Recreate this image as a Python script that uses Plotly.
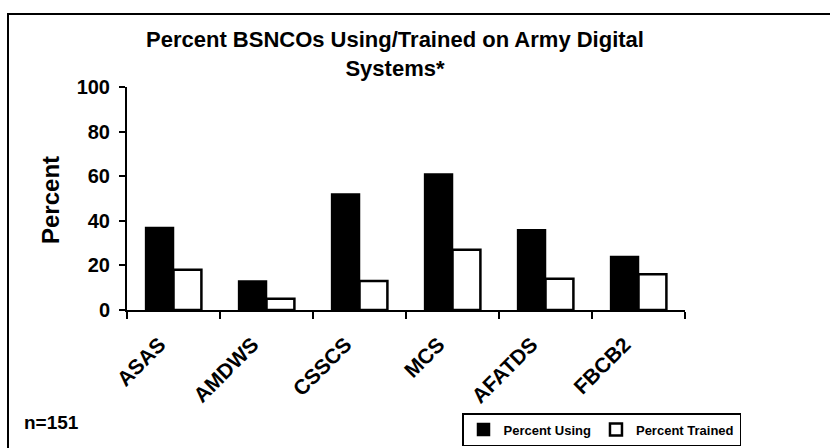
import plotly.graph_objects as go

categories = ["ASAS", "AMDWS", "CSSCS", "MCS", "AFATDS", "FBCB2"]
percent_using = [37, 13, 52, 61, 36, 24]
percent_trained = [18, 5, 13, 27, 14, 16]
y_ticks = [0, 20, 40, 60, 80, 100]

FONT = "Liberation Sans, Arial, sans-serif"

fig = go.Figure()
fig.add_trace(go.Bar(
    x=categories, y=percent_using, name="Percent Using",
    marker=dict(color="black", line=dict(color="black", width=1.5)),
))
fig.add_trace(go.Bar(
    x=categories, y=percent_trained, name="Percent Trained",
    marker=dict(color="white", line=dict(color="black", width=2.5)),
))

L, R, T, B = 127, 145, 87, 138
W, H = 830, 448
PW, PH = W - L - R, H - T - B

def px_x(p):
    return (p - L) / PW

def px_y(p):
    return (H - B - p) / PH

fig.update_layout(
    width=W, height=H,
    margin=dict(l=L, r=R, t=T, b=B, autoexpand=False),
    paper_bgcolor="white", plot_bgcolor="white",
    barmode="group", bargap=0.4, bargroupgap=0.0,
    font=dict(family=FONT, color="black", weight="bold"),
    showlegend=True,
    legend=dict(
        orientation="h", x=px_x(462), y=px_y(446), xanchor="left", yanchor="bottom",
        font=dict(family=FONT, size=13, color="black", weight="bold"),
        bordercolor="black", borderwidth=1.5, bgcolor="white",
        itemwidth=30, tracegroupgap=0, traceorder="normal",
    ),
    xaxis=dict(
        showline=True, linecolor="black", linewidth=2,
        ticks="outside", tickson="boundaries", ticklen=7, tickwidth=1.5, tickcolor="black",
        tickangle=-45, tickfont=dict(family=FONT, size=21, color="black", weight="bold"),
        ticklabelshift=-14, ticklabelstandoff=12,
        showgrid=False, zeroline=False,
    ),
    yaxis=dict(
        range=[0, 100], tickvals=y_ticks, ticktext=[str(v) for v in y_ticks],
        showline=True, linecolor="black", linewidth=2,
        ticks="outside", ticklen=6, tickwidth=1.5, tickcolor="black",
        tickfont=dict(family=FONT, size=20, color="black", weight="bold"),
        ticklabelstandoff=5,
        showgrid=False, zeroline=False,
    ),
    annotations=[
        dict(text="Percent BSNCOs Using/Trained on Army Digital<br>Systems*",
             xref="paper", yref="paper", x=px_x(395), y=px_y(54),
             xanchor="center", yanchor="middle", showarrow=False,
             font=dict(family=FONT, size=22, color="black", weight="bold")),
        dict(text="Percent", textangle=-90,
             xref="paper", yref="paper", x=px_x(50), y=px_y(200),
             xanchor="center", yanchor="middle", showarrow=False,
             font=dict(family=FONT, size=24, color="black", weight="bold")),
        dict(text="n=151",
             xref="paper", yref="paper", x=px_x(22), y=px_y(422),
             xanchor="left", yanchor="middle", showarrow=False,
             font=dict(family=FONT, size=19, color="black", weight="bold")),
    ],
    shapes=[
        dict(type="rect", xref="paper", yref="paper",
             x0=px_x(8), x1=px_x(832), y0=px_y(450), y1=px_y(14),
             line=dict(color="black", width=2), fillcolor="rgba(0,0,0,0)", layer="below"),
    ],
)

fig.write_html("out.html", config={"displayModeBar": False})

# remove the browser's default 8px body margin so pixel positions match
with open("out.html", "r", encoding="utf-8") as f:
    html = f.read()
html = html.replace("<head>", "<head><style>html,body{margin:0;padding:0;}</style>", 1)
with open("out.html", "w", encoding="utf-8") as f:
    f.write(html)
